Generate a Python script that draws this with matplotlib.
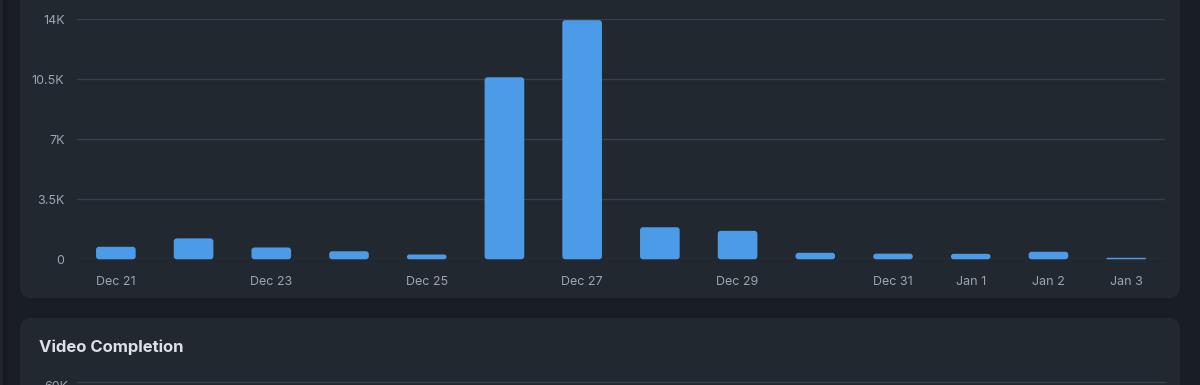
import matplotlib
matplotlib.use("Agg")
import matplotlib.pyplot as plt
from matplotlib.patches import FancyBboxPatch
from matplotlib.lines import Line2D

# ---- data ----
dates = ["Dec 21", "Dec 22", "Dec 23", "Dec 24", "Dec 25", "Dec 26", "Dec 27",
         "Dec 28", "Dec 29", "Dec 30", "Dec 31", "Jan 1", "Jan 2", "Jan 3"]
views = [730, 1220, 690, 470, 280, 10620, 13950, 1870, 1660, 380, 330, 320, 440, 90]
tick_labels = ["Dec 21", "", "Dec 23", "", "Dec 25", "", "Dec 27",
               "", "Dec 29", "", "Dec 31", "Jan 1", "Jan 2", "Jan 3"]
y_ticks = [0, 3500, 7000, 10500, 14000]
y_tick_labels = ["0", "3.5K", "7K", "10.5K", "14K"]
next_title = "Video Completion"
next_first_tick = "60K"

# ---- style ----
W, H = 1200, 385
OUTER = "#191e25"
CARD = "#222830"
GRID = "#3a4049"
BAR = "#4b9be8"
TICK = "#9ea5ae"
TITLE = "#dde1e6"
FONT = ["Inter", "DejaVu Sans"]

fig = plt.figure(figsize=(W / 100, H / 100), dpi=100)
fig.patch.set_facecolor(OUTER)

# background / card layer in pixel coordinates
bg = fig.add_axes([0, 0, 1, 1])
bg.set_xlim(0, W)
bg.set_ylim(H, 0)
bg.axis("off")
bg.add_patch(plt.Rectangle((0, 0), 3, H, color="#1f242b", lw=0))
bg.add_patch(plt.Rectangle((3, 0), 4, H, color="#161a20", lw=0))
bg.add_patch(FancyBboxPatch((20, -40), 1160, 338, boxstyle="round,pad=0,rounding_size=12",
                            fc=CARD, ec="none"))
bg.add_patch(FancyBboxPatch((20, 318), 1160, 120, boxstyle="round,pad=0,rounding_size=12",
                            fc=CARD, ec="none"))
bg.text(39, 347, next_title, fontsize=12, fontweight="bold", color=TITLE,
        family=FONT, va="center", ha="left")
bg.add_line(Line2D([77, 1165], [381.5, 381.5], color=GRID, lw=1))
bg.text(68, 387, next_first_tick, fontsize=9, color=TICK, family=FONT,
        va="center", ha="right")

# main chart axes
x0, x1 = 77, 1165
y_top, y_base = 19.3, 259.3
ax = fig.add_axes([x0 / W, (H - y_base) / H, (x1 - x0) / W, (y_base - y_top) / H])
ax.set_facecolor("none")
xs = list(range(len(dates)))
bars = ax.bar(xs, views, width=0.51, color=BAR)
ax.set_xlim(-0.5, len(dates) - 0.5)
ax.set_ylim(0, 14000)

# rounded bar corners
px_per_x = (x1 - x0) / len(dates)
px_per_y = (y_base - y_top) / 14000
r_px = 3.0
for b in list(bars):
    x, w, h = b.get_x(), b.get_width(), b.get_height()
    ry = min(r_px / px_per_y, h / 2)
    rx = ry * px_per_y / px_per_x
    b.remove()
    p = FancyBboxPatch((x, 0), w, h, boxstyle=f"round,pad=0,rounding_size={rx}",
                       mutation_aspect=ry / rx, fc=BAR, ec="none", clip_on=False, zorder=3)
    ax.add_patch(p)

ax.set_yticks(y_ticks)
ax.set_yticklabels(y_tick_labels)
ax.set_xticks(xs)
ax.set_xticklabels(tick_labels)
ax.grid(axis="y", color=GRID, lw=1)
ax.set_axisbelow(True)
for s in ax.spines.values():
    s.set_visible(False)
ax.tick_params(axis="both", length=0, colors=TICK, labelsize=9)
ax.tick_params(axis="y", pad=9)
ax.tick_params(axis="x", pad=12)
for lab in ax.get_xticklabels() + ax.get_yticklabels():
    lab.set_family(FONT)

fig.savefig("out.png", dpi=100, facecolor=OUTER)
